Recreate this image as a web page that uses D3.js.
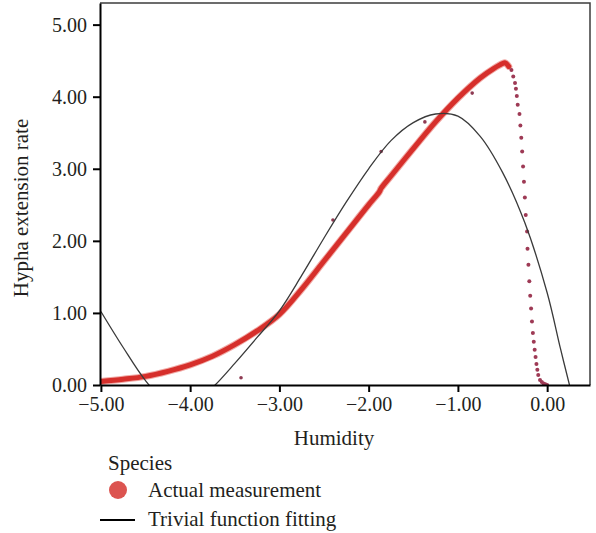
<!DOCTYPE html>
<html>
<head>
<meta charset="utf-8">
<script src="https://cdn.jsdelivr.net/npm/d3@7"></script>
<style>
  body { margin: 0; background: #fff; }
  text { font-family: "Liberation Serif", "DejaVu Serif", serif; fill: #231f20; }
</style>
</head>
<body>
<div class="container"></div>
<script>
// tick values
var humidityTicks = [-5, -4, -3, -2, -1, 0];
var rateTicks = [0, 1, 2, 3, 4, 5];

// actual measurement, dense part (reads as a thick band)
var measuredX = [-5.0, -4.75, -4.5, -4.25, -4.0, -3.75, -3.5, -3.25, -3.0, -2.75, -2.5, -2.25, -2.0, -1.88, -1.86, -1.75, -1.5, -1.25, -1.0, -0.75, -0.6, -0.5, -0.47, -0.43];
var measuredY = [0.05, 0.08, 0.12, 0.19, 0.28, 0.40, 0.56, 0.75, 0.98, 1.33, 1.72, 2.11, 2.50, 2.68, 2.73, 2.90, 3.28, 3.65, 3.98, 4.26, 4.39, 4.46, 4.47, 4.42];

// actual measurement, sparse points on the fall
var dropX = [-0.40, -0.38, -0.36, -0.35, -0.34, -0.33, -0.31, -0.30, -0.29, -0.28, -0.27, -0.26, -0.25, -0.24, -0.225, -0.22, -0.21, -0.20, -0.19, -0.18, -0.17, -0.16, -0.15, -0.14, -0.13, -0.12, -0.11, -0.10, -0.08, -0.06, -0.04, -0.02, 0.0];
var dropY = [4.37, 4.28, 4.19, 4.11, 4.01, 3.89, 3.76, 3.60, 3.43, 3.24, 3.03, 2.82, 2.60, 2.36, 2.13, 1.89, 1.67, 1.44, 1.24, 1.06, 0.88, 0.72, 0.60, 0.49, 0.39, 0.29, 0.21, 0.14, 0.07, 0.04, 0.02, 0.01, 0.0];

// stray measurements
var strayX = [-3.43, -1.37, -0.84, -2.40, -1.86];
var strayY = [0.10, 3.65, 4.05, 2.29, 3.24];

// trivial function fitting
var fitX = [-5.0, -4.75, -4.5, -4.3, -4.1, -3.9, -3.72, -3.5, -3.25, -3.0, -2.75, -2.5, -2.25, -2.0, -1.75, -1.5, -1.25, -1.0, -0.75, -0.5, -0.25, 0.0, 0.15, 0.25];
var fitY = [1.02, 0.52, 0.06, -0.2, -0.3, -0.2, 0.0, 0.30, 0.66, 1.03, 1.52, 2.04, 2.54, 3.00, 3.39, 3.64, 3.76, 3.73, 3.45, 2.95, 2.25, 1.28, 0.50, 0.0];

function drawChart() {
    var W = 596, H = 533;
    var margin = { top: 3, right: 6, bottom: 148, left: 100 };
    var x0 = margin.left, x1 = W - margin.right, y0 = margin.top, y1 = H - margin.bottom;

    var svg = d3.select(".container").append("svg")
        .attr("width", W)
        .attr("height", H);

    var x = d3.scaleLinear().domain([-5.01, 0.48]).range([x0, x1]);
    var y = d3.scaleLinear().domain([0, 5.3]).range([y1, y0]);

    svg.append("clipPath").attr("id", "plot")
        .append("rect")
        .attr("x", x0).attr("y", y0)
        .attr("width", x1 - x0).attr("height", y1 - y0);

    var plot = svg.append("g").attr("clip-path", "url(#plot)");

    var measured = measuredX.map(function (d, i) { return [d, measuredY[i]]; });
    var drop = dropX.map(function (d, i) { return [d, dropY[i]]; });
    var stray = strayX.map(function (d, i) { return [d, strayY[i]]; });
    var fit = fitX.map(function (d, i) { return [d, fitY[i]]; });

    var line = d3.line()
        .x(function (d) { return x(d[0]); })
        .y(function (d) { return y(d[1]); })
        .curve(d3.curveCatmullRom);

    // thick red band
    plot.append("path")
        .datum(measured)
        .attr("fill", "none")
        .attr("stroke", "#f1aaa6")
        .attr("stroke-width", 7)
        .attr("stroke-linecap", "round")
        .attr("d", line);

    plot.append("path")
        .datum(measured)
        .attr("fill", "none")
        .attr("stroke", "#d62f2b")
        .attr("stroke-width", 5)
        .attr("stroke-linecap", "round")
        .attr("d", line);

    plot.append("g")
        .selectAll("circle")
        .data(drop)
        .enter()
        .append("circle")
        .attr("cx", function (d) { return x(d[0]); })
        .attr("cy", function (d) { return y(d[1]); })
        .attr("r", 2)
        .attr("fill", "#9e3a55");

    plot.append("g")
        .selectAll("circle")
        .data(stray)
        .enter()
        .append("circle")
        .attr("cx", function (d) { return x(d[0]); })
        .attr("cy", function (d) { return y(d[1]); })
        .attr("r", 1.8)
        .attr("fill", "#8e3a52");

    // fitted curve
    plot.append("path")
        .datum(fit)
        .attr("fill", "none")
        .attr("stroke", "#3a3a3a")
        .attr("stroke-width", 1.3)
        .attr("d", line);

    // frame (top and right)
    svg.append("path")
        .attr("d", "M" + x0 + "," + y0 + "H" + x1 + "V" + y1)
        .attr("fill", "none")
        .attr("stroke", "#3c3c3c")
        .attr("stroke-width", 1.5);

    var fmt = d3.format(".2f");

    var xAxis = svg.append("g")
        .attr("transform", "translate(0," + y1 + ")")
        .call(d3.axisBottom(x).tickValues(humidityTicks).tickFormat(fmt).tickSize(7).tickSizeOuter(0).tickPadding(5));

    var yAxis = svg.append("g")
        .attr("transform", "translate(" + x0 + ",0)")
        .call(d3.axisLeft(y).tickValues(rateTicks).tickFormat(fmt).tickSize(7).tickSizeOuter(0).tickPadding(6));

    [xAxis, yAxis].forEach(function (ax) {
        ax.select(".domain").attr("stroke", "#000").attr("stroke-width", 2);
        ax.selectAll(".tick line").attr("stroke", "#000").attr("stroke-width", 2);
        ax.selectAll(".tick text")
            .attr("font-family", "Liberation Serif, serif")
            .attr("font-size", 20)
            .attr("fill", "#231f20");
    });

    // axis titles
    svg.append("text")
        .attr("x", 334)
        .attr("y", 445)
        .attr("text-anchor", "middle")
        .attr("font-size", 21)
        .text("Humidity");

    svg.append("text")
        .attr("transform", "translate(28,208) rotate(-90)")
        .attr("text-anchor", "middle")
        .attr("font-size", 21)
        .text("Hypha extension rate");

    // legend
    svg.append("text")
        .attr("x", 108)
        .attr("y", 470)
        .attr("font-size", 21)
        .text("Species");

    svg.append("circle")
        .attr("cx", 118)
        .attr("cy", 490)
        .attr("r", 9)
        .attr("fill", "#dc5450");

    svg.append("text")
        .attr("x", 148)
        .attr("y", 497)
        .attr("font-size", 21)
        .text("Actual measurement");

    svg.append("line")
        .attr("x1", 100).attr("x2", 135)
        .attr("y1", 520).attr("y2", 520)
        .attr("stroke", "#000")
        .attr("stroke-width", 2);

    svg.append("text")
        .attr("x", 148)
        .attr("y", 526)
        .attr("font-size", 21)
        .text("Trivial function fitting");
}

drawChart();
</script>
</body>
</html>
